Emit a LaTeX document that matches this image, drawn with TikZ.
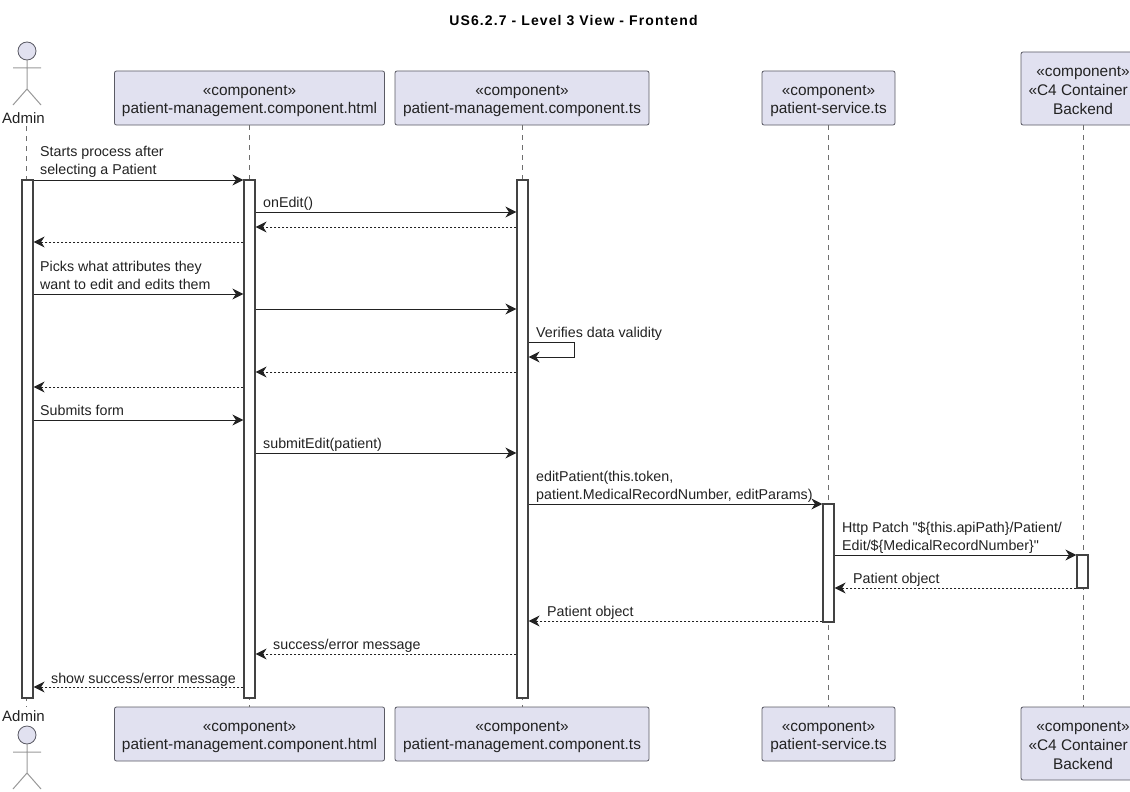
\documentclass[tikz,border=0pt]{standalone}
\usepackage{fontspec}
\setmainfont[Ligatures=TeXOff]{Liberation Sans}
\usetikzlibrary{arrows.meta}
\definecolor{boxfill}{RGB}{225, 225, 240}
\definecolor{boxline}{RGB}{90, 90, 100}
\definecolor{lifeline}{RGB}{110, 110, 110}
\definecolor{msgline}{RGB}{34, 34, 34}
\tikzset{
    partbox/.style={draw=boxline, fill=boxfill, line width=0.8pt, rounded corners=2pt, inner sep=0pt,
                    minimum height=54pt, align=center, font=\fontsize{15.4}{18.4}\selectfont, text=msgline,
                    execute at begin node=\rule{0pt}{35pt}},
    tallbox/.style={partbox, minimum width=124pt, minimum height=73pt, font=\fontsize{15.4}{18.8}\selectfont,
                    execute at begin node=\rule{0pt}{52pt}},
    actorlabel/.style={font=\fontsize{15}{18}\selectfont, text=msgline, inner sep=0pt},
    actorline/.style={draw=lifeline!70, line width=1pt},
    lifelinedash/.style={draw=lifeline, line width=0.7pt, dash pattern=on 5pt off 5pt},
    barbox/.style={draw=msgline!85, fill=white, line width=1.2pt, minimum width=11pt, inner sep=0pt},
    callmsg/.style={draw=msgline, line width=1pt, -{Stealth[length=11pt,width=11pt,inset=3.5pt]}},
    retmsg/.style={callmsg, dash pattern=on 2pt off 2pt},
    msglabel/.style={anchor=west, align=left, inner sep=0pt, yshift=-1.5pt, font=\fontsize{14.25}{18}\selectfont, text=msgline},
}
\begin{document}
\begin{tikzpicture}[x=1pt, y=-1pt]
    \useasboundingbox (0,0) rectangle (1130,792);
    \node[font=\bfseries\fontsize{14}{16}\selectfont\addfontfeature{LetterSpace=8}, text=black] (title) at (573.5,21) {US6.2.7 - Level 3 View - Frontend};

    % participants, top row
    \node[partbox, minimum width=270pt] (htmlTop) at (249.5, 98) {«component»\\patient-management.component.html};
    \node[partbox, minimum width=254pt] (tsTop)   at (522.0, 98) {«component»\\patient-management.component.ts};
    \node[partbox, minimum width=133pt] (svcTop)  at (828.5, 98) {«component»\\patient-service.ts};
    \node[tallbox] (backTop) at (1083, 88.5) {«component»\\\makebox[109pt][l]{«C4 Container}\\Backend};
    % participants, bottom row
    \node[partbox, minimum width=270pt] (htmlBot) at (249.5, 734) {«component»\\patient-management.component.html};
    \node[partbox, minimum width=254pt] (tsBot)   at (522.0, 734) {«component»\\patient-management.component.ts};
    \node[partbox, minimum width=133pt] (svcBot)  at (828.5, 734) {«component»\\patient-service.ts};
    \node[tallbox] (backBot) at (1083, 743.5) {«component»\\\makebox[109pt][l]{«C4 Container}\\Backend};

    % actor, top
    \draw[boxline, fill=boxfill, line width=0.8pt] (27,51) circle (9);
    \draw[actorline] (27,60) -- (27,89) (13,68) -- (41,68) (13,105) -- (27,89) -- (41,105);
    \node[actorlabel] (adminTop) at (23.5,118) {Admin};
    % actor, bottom
    \draw[boxline, fill=boxfill, line width=0.8pt] (27,735) circle (9);
    \draw[actorline] (27,744) -- (27,773) (13,752) -- (41,752) (13,789) -- (27,773) -- (41,789);
    \node[actorlabel] (adminBot) at (23.5,716) {Admin};

    % lifelines
    \coordinate (adminA) at (26.5,126);
    \coordinate (adminB) at (26.5,707);
    \draw[lifelinedash] (adminA) -- (adminB);
    \draw[lifelinedash] (htmlTop) -- (htmlBot);
    \draw[lifelinedash] (tsTop) -- (tsBot);
    \draw[lifelinedash] (svcTop) -- (svcBot);
    \draw[lifelinedash] (backTop) -- (backBot);

    % activations
    \node[barbox, minimum height=518pt] (adminBar) at (27.5, 439) {};
    \node[barbox, minimum height=518pt] (htmlBar)  at (249.5, 439) {};
    \node[barbox, minimum height=518pt] (tsBar)    at (522.5, 439) {};
    \node[barbox, minimum height=118pt] (svcBar)   at (828.5, 563) {};
    \node[barbox, minimum height=33pt]  (backBar)  at (1082.5, 571.5) {};

    % messages
    \node[msglabel] (lblStart) at (40,160) {Starts process after\\selecting a Patient};
    \draw[callmsg] (adminBar.east |- 0,180) -- (htmlBar.west |- 0,180);
    \node[msglabel] (lblEdit) at (263,202) {onEdit()};
    \draw[callmsg] (htmlBar.east |- 0,212) -- (tsBar.west |- 0,212);
    \draw[retmsg] (tsBar.west |- 0,227) -- (htmlBar.east |- 0,227);
    \draw[retmsg] (htmlBar.west |- 0,242) -- (adminBar.east |- 0,242);
    \node[msglabel] (lblPick) at (40,274) {Picks what attributes they\\want to edit and edits them};
    \draw[callmsg] (adminBar.east |- 0,294) -- (htmlBar.west |- 0,294);
    \draw[callmsg] (htmlBar.east |- 0,309) -- (tsBar.west |- 0,309);
    \node[msglabel] (lblVerify) at (536,332) {Verifies data validity};
    \draw[callmsg] (tsBar.east |- 0,342) -- (574,342) -- (574,357) -- (tsBar.east |- 0,357);
    \draw[retmsg] (tsBar.west |- 0,372) -- (htmlBar.east |- 0,372);
    \draw[retmsg] (htmlBar.west |- 0,387) -- (adminBar.east |- 0,387);
    \node[msglabel] (lblSubmit) at (40,409) {Submits form};
    \draw[callmsg] (adminBar.east |- 0,420) -- (htmlBar.west |- 0,420);
    \node[msglabel] (lblSubmitEdit) at (263,443) {submitEdit(patient)};
    \draw[callmsg] (htmlBar.east |- 0,453) -- (tsBar.west |- 0,453);
    \node[msglabel] (lblPatch) at (536,485) {editPatient(this.token,\\patient.MedicalRecordNumber, editParams)};
    \draw[callmsg] (tsBar.east |- 0,504) -- (svcBar.west |- 0,504);
    \node[msglabel] (lblHttp) at (842,536) {Http Patch "\$\{this.apiPath\}/Patient/\\Edit/\$\{MedicalRecordNumber\}"};
    \draw[callmsg] (svcBar.east |- 0,555) -- (backBar.west |- 0,555);
    \node[msglabel] (lblObjA) at (853,578) {Patient object};
    \draw[retmsg] (backBar.west |- 0,588) -- (svcBar.east |- 0,588);
    \node[msglabel] (lblObjB) at (547,611) {Patient object};
    \draw[retmsg] (svcBar.west |- 0,621) -- (tsBar.east |- 0,621);
    \node[msglabel] (lblResult) at (273,644) {success/error message};
    \draw[retmsg] (tsBar.west |- 0,654) -- (htmlBar.east |- 0,654);
    \node[msglabel] (lblShow) at (51,678) {show success/error message};
    \draw[retmsg] (htmlBar.west |- 0,687) -- (adminBar.east |- 0,687);
\end{tikzpicture}
\end{document}
